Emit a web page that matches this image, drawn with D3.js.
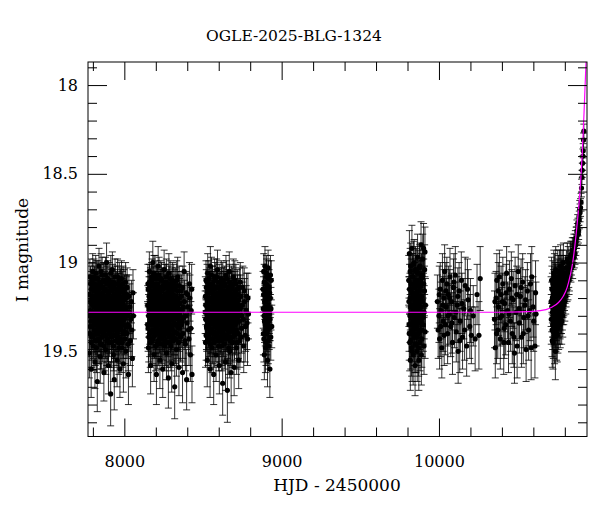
<!DOCTYPE html>
<html>
<head>
<meta charset="utf-8">
<script src="https://d3js.org/d3.v7.min.js"></script>
<style>
  body { margin: 0; background: #fff; }
  text { font-family: "DejaVu Serif", serif; fill: #000; }
</style>
</head>
<body>
<script>
// light curve, one array per observing season: [HJD-2450000, I mag, error]
var season1 = [[7776,19.30,.12],[7778,19.51,.14],[7781,19.08,.10],[7783,19.36,.13],[7786,19.22,.11],[7789,19.60,.16],[7791,19.15,.10],[7794,19.42,.13],[7797,19.28,.12],[7799,19.05,.10],[7802,19.47,.14],[7805,19.19,.11],[7808,19.33,.12],[7811,19.12,.10],[7813,19.56,.15],[7816,19.25,.11],[7819,19.39,.13],[7822,19.09,.10],[7825,19.31,.12],[7828,19.67,.17],[7830,19.17,.11],[7833,19.44,.13],[7836,19.26,.12],[7839,19.02,.10],[7842,19.37,.13],[7845,19.21,.11],[7847,19.53,.15],[7850,19.13,.10],[7853,19.34,.12],[7856,19.46,.14],[7859,19.07,.10],[7862,19.29,.12],[7864,19.18,.11],[7867,19.40,.13],[7870,19.62,.16],[7873,19.24,.11],[7876,19.11,.10],[7879,19.35,.12],[7882,19.49,.14],[7884,19.20,.11],[7887,19.00,.11],[7890,19.32,.12],[7893,19.43,.13],[7896,19.16,.10],[7899,19.58,.16],[7902,19.27,.12],[7904,19.10,.10],[7907,19.38,.13],[7910,19.23,.11],[7913,19.74,.18],[7916,19.14,.10],[7919,19.45,.14],[7921,19.30,.12],[7924,19.04,.10],[7927,19.36,.13],[7930,19.52,.15],[7933,19.19,.11],[7936,19.66,.17],[7939,19.27,.12],[7942,19.12,.10],[7945,19.41,.13],[7948,19.22,.11],[7951,19.33,.12],[7954,19.55,.15],[7957,19.08,.10],[7960,19.29,.12],[7963,19.45,.14],[7966,19.17,.11],[7969,19.37,.13],[7972,19.60,.16],[7975,19.24,.11],[7978,19.13,.10],[7981,19.34,.12],[7984,19.48,.14],[7987,19.20,.11],[7990,19.31,.12],[7994,19.57,.16],[7998,19.15,.11],[8002,19.39,.13],[8006,19.26,.12],[8010,19.50,.15],[8015,19.18,.11],[8020,19.35,.13],[8026,19.63,.17],[8032,19.28,.12],[8038,19.44,.14],[8045,19.22,.12],[8051,19.54,.16],[8058,19.30,.13],
  [7777,19.18,.11],[7780,19.40,.13],[7782,19.27,.12],[7785,19.12,.10],[7787,19.33,.12],[7790,19.45,.14],[7792,19.23,.11],[7795,19.10,.10],[7796,19.36,.13],[7798,19.20,.11],[7800,19.29,.12],[7801,19.14,.10],[7803,19.41,.13],[7806,19.25,.11],[7807,19.08,.10],[7809,19.38,.13],[7810,19.22,.11],[7812,19.31,.12],[7814,19.16,.10],[7815,19.44,.14],[7817,19.28,.12],[7818,19.06,.10],[7820,19.35,.12],[7821,19.19,.11],[7823,19.48,.14],[7824,19.24,.11],[7826,19.13,.10],[7827,19.32,.12],[7829,19.40,.13],[7831,19.21,.11],[7832,19.09,.10],[7834,19.30,.12],[7835,19.37,.13],[7837,19.15,.10],[7838,19.26,.12],[7840,19.43,.14],[7841,19.18,.11],[7843,19.29,.12],[7844,19.11,.10],[7846,19.34,.12],[7848,19.23,.11],[7849,19.46,.14],[7851,19.27,.12],[7852,19.05,.10],[7854,19.39,.13],[7855,19.20,.11],[7857,19.31,.12],[7858,19.14,.10],[7860,19.42,.14],[7861,19.25,.11],[7863,19.17,.11],[7865,19.36,.13],[7866,19.28,.12],[7868,19.10,.10],[7869,19.33,.12],[7871,19.22,.11],[7872,19.47,.14],[7874,19.30,.12],[7875,19.15,.10],[7877,19.38,.13],[7878,19.26,.12],[7880,19.07,.10],[7881,19.41,.13],[7883,19.19,.11],[7885,19.32,.12],[7886,19.24,.11],[7888,19.44,.14],[7889,19.12,.10],[7891,19.29,.12],[7892,19.37,.13],[7894,19.21,.11],[7895,19.09,.10],[7897,19.34,.12],[7898,19.27,.12],[7900,19.45,.14],[7901,19.17,.11],[7903,19.31,.12],[7905,19.23,.11],[7906,19.40,.13],[7908,19.13,.10],[7909,19.28,.12],[7911,19.36,.13],[7912,19.20,.11],[7914,19.06,.10],[7915,19.33,.12],[7917,19.25,.11],[7918,19.42,.14],[7920,19.16,.10],[7922,19.30,.12],[7923,19.38,.13],[7925,19.22,.11],[7926,19.11,.10],[7928,19.35,.12],[7929,19.27,.12],[7931,19.47,.14],[7932,19.14,.10],[7934,19.32,.12],[7935,19.24,.11],[7937,19.41,.13],[7938,19.18,.11],[7940,19.29,.12],[7941,19.08,.10],[7943,19.37,.13],[7944,19.21,.11],[7946,19.33,.12],[7947,19.44,.14],[7949,19.15,.10],[7950,19.26,.12],[7952,19.39,.13],[7953,19.19,.11],[7955,19.30,.12],[7956,19.12,.10],[7958,19.42,.14],[7959,19.23,.11],[7961,19.34,.12],[7962,19.17,.11],[7964,19.28,.12],[7965,19.48,.15],[7967,19.25,.11],[7968,19.10,.10],[7970,19.36,.13],[7971,19.20,.11],[7973,19.31,.12],[7974,19.43,.14],[7976,19.14,.10],[7977,19.27,.12],[7979,19.38,.13],[7980,19.22,.11],[7982,19.09,.10],[7983,19.33,.12],[7985,19.26,.12],[7986,19.45,.14],[7988,19.16,.11],[7989,19.35,.13],[7991,19.24,.11],[7992,19.12,.10],[7993,19.40,.14],[7996,19.29,.12],[7997,19.21,.11],[8000,19.32,.12],[8001,19.18,.11],[8004,19.43,.14],[8005,19.25,.12],[8008,19.11,.11],[8009,19.36,.13],[8012,19.27,.12],[8013,19.20,.12],[8017,19.40,.14],[8018,19.14,.11],[8023,19.30,.13],[8024,19.46,.15],[8029,19.19,.12],[8030,19.36,.14],[8035,19.25,.13],[8041,19.32,.14],[8048,19.38,.15],[8055,19.17,.13]];
var season2 = [[8148,19.35,.13],[8150,19.12,.11],[8153,19.48,.14],[8156,19.26,.12],[8159,19.05,.11],[8161,19.40,.13],[8164,19.19,.11],[8167,19.58,.16],[8170,19.30,.12],[8173,19.10,.10],[8175,19.44,.14],[8178,19.23,.11],[8181,19.00,.12],[8184,19.35,.13],[8187,19.16,.11],[8189,19.52,.15],[8192,19.28,.12],[8195,19.07,.11],[8198,19.38,.13],[8201,19.21,.11],[8204,19.63,.17],[8206,19.13,.10],[8209,19.33,.12],[8212,19.46,.14],[8215,19.02,.11],[8218,19.25,.12],[8220,19.40,.13],[8223,19.17,.11],[8226,19.55,.16],[8229,19.31,.12],[8232,19.09,.10],[8235,19.43,.14],[8238,19.20,.11],[8241,19.36,.13],[8244,19.60,.16],[8247,19.14,.10],[8250,19.29,.12],[8253,19.04,.11],[8256,19.47,.14],[8259,19.23,.11],[8262,19.34,.13],[8265,19.11,.10],[8268,19.51,.15],[8271,19.27,.12],[8274,19.18,.11],[8277,19.39,.13],[8280,19.65,.17],[8283,19.06,.11],[8286,19.32,.12],[8289,19.22,.11],[8292,19.45,.14],[8295,19.15,.10],[8298,19.37,.13],[8301,19.57,.16],[8304,19.26,.12],[8307,19.10,.10],[8310,19.42,.14],[8313,19.19,.11],[8316,19.31,.12],[8320,19.70,.18],[8323,19.24,.12],[8327,19.13,.10],[8331,19.49,.15],[8335,19.28,.12],[8339,19.08,.11],[8343,19.36,.13],[8347,19.59,.16],[8351,19.20,.11],[8355,19.41,.14],[8360,19.16,.11],[8365,19.33,.12],[8370,19.62,.17],[8375,19.25,.12],[8380,19.05,.11],[8385,19.44,.14],[8390,19.30,.12],[8396,19.66,.17],[8402,19.18,.12],[8408,19.38,.13],[8414,19.12,.12],[8420,19.52,.15],[8425,19.27,.13],[8430,19.63,.16],
  [8149,19.24,.11],[8151,19.37,.13],[8152,19.15,.10],[8154,19.30,.12],[8155,19.42,.14],[8157,19.19,.11],[8158,19.28,.12],[8160,19.11,.10],[8162,19.34,.12],[8163,19.25,.11],[8165,19.45,.14],[8166,19.13,.10],[8168,19.31,.12],[8169,19.21,.11],[8171,19.39,.13],[8172,19.17,.11],[8174,19.27,.12],[8176,19.08,.10],[8177,19.35,.13],[8179,19.22,.11],[8180,19.43,.14],[8182,19.29,.12],[8183,19.12,.10],[8185,19.38,.13],[8186,19.24,.11],[8188,19.06,.10],[8190,19.33,.12],[8191,19.19,.11],[8193,19.41,.13],[8194,19.26,.12],[8196,19.15,.10],[8197,19.30,.12],[8199,19.47,.14],[8200,19.21,.11],[8202,19.09,.10],[8203,19.36,.13],[8205,19.27,.12],[8207,19.18,.11],[8208,19.40,.13],[8210,19.23,.11],[8211,19.12,.10],[8213,19.32,.12],[8214,19.26,.12],[8216,19.44,.14],[8217,19.16,.11],[8219,19.35,.13],[8221,19.07,.10],[8222,19.29,.12],[8224,19.38,.13],[8225,19.20,.11],[8227,19.31,.12],[8228,19.14,.10],[8230,19.42,.14],[8231,19.25,.11],[8233,19.19,.11],[8234,19.33,.12],[8236,19.10,.10],[8237,19.28,.12],[8239,19.46,.14],[8240,19.22,.11],[8242,19.30,.12],[8243,19.15,.10],[8245,19.37,.13],[8246,19.24,.11],[8248,19.41,.14],[8249,19.13,.10],[8251,19.32,.12],[8252,19.20,.11],[8254,19.27,.12],[8255,19.39,.13],[8257,19.11,.10],[8258,19.34,.12],[8260,19.26,.12],[8261,19.44,.14],[8263,19.18,.11],[8264,19.29,.12],[8266,19.37,.13],[8267,19.08,.10],[8269,19.23,.11],[8270,19.33,.12],[8272,19.45,.14],[8273,19.14,.10],[8275,19.30,.12],[8276,19.21,.11],[8278,19.40,.13],[8279,19.17,.11],[8281,19.28,.12],[8282,19.35,.13],[8284,19.12,.10],[8285,19.42,.14],[8287,19.25,.12],[8288,19.19,.11],[8290,19.32,.12],[8291,19.09,.10],[8293,19.38,.13],[8294,19.26,.12],[8296,19.47,.14],[8297,19.16,.11],[8299,19.29,.12],[8300,19.22,.11],[8302,19.36,.13],[8303,19.13,.10],[8305,19.41,.14],[8306,19.24,.11],[8308,19.31,.12],[8309,19.18,.11],[8311,19.27,.12],[8312,19.44,.14],[8314,19.11,.10],[8315,19.34,.12],[8318,19.21,.11],[8319,19.39,.13],[8321,19.15,.11],[8322,19.30,.12],[8325,19.43,.14],[8326,19.25,.12],[8329,19.19,.11],[8330,19.35,.13],[8333,19.10,.11],[8334,19.28,.12],[8337,19.40,.14],[8338,19.22,.12],[8341,19.32,.12],[8342,19.16,.11],[8345,19.45,.14],[8346,19.26,.12],[8349,19.13,.11],[8350,19.37,.13],[8353,19.23,.12],[8354,19.30,.12],[8358,19.42,.14],[8362,19.19,.12],[8363,19.35,.13],[8368,19.27,.12],[8372,19.14,.12],[8373,19.40,.14],[8378,19.31,.13],[8382,19.22,.12],[8388,19.46,.15],[8393,19.17,.12],[8399,19.34,.14],[8405,19.25,.13],[8411,19.43,.15],[8417,19.20,.13],[8423,19.37,.15],[8428,19.15,.14]];
var season3 = [[8514,19.28,.12],[8516,19.45,.14],[8519,19.10,.11],[8522,19.36,.13],[8525,19.20,.11],[8527,19.55,.15],[8530,19.06,.11],[8533,19.32,.12],[8536,19.42,.14],[8539,19.15,.10],[8542,19.27,.12],[8545,19.60,.16],[8547,19.02,.11],[8550,19.38,.13],[8553,19.22,.11],[8556,19.48,.14],[8559,19.12,.10],[8562,19.33,.12],[8565,19.18,.11],[8568,19.63,.17],[8571,19.25,.12],[8574,19.08,.10],[8577,19.40,.13],[8580,19.29,.12],[8583,19.52,.15],[8586,19.14,.10],[8589,19.35,.13],[8592,19.04,.11],[8595,19.44,.14],[8598,19.21,.11],[8601,19.31,.12],[8604,19.58,.16],[8607,19.17,.11],[8610,19.39,.13],[8613,19.26,.12],[8616,19.09,.10],[8619,19.47,.14],[8622,19.23,.11],[8625,19.68,.18],[8628,19.34,.12],[8631,19.13,.10],[8634,19.41,.14],[8637,19.19,.11],[8640,19.30,.12],[8643,19.56,.16],[8646,19.07,.11],[8649,19.37,.13],[8652,19.24,.12],[8655,19.72,.18],[8658,19.16,.11],[8661,19.43,.14],[8664,19.28,.12],[8667,19.05,.11],[8670,19.50,.15],[8673,19.21,.11],[8676,19.35,.13],[8679,19.62,.17],[8682,19.12,.10],[8685,19.32,.12],[8688,19.45,.14],[8691,19.18,.11],[8694,19.27,.12],[8698,19.59,.16],[8702,19.10,.11],[8706,19.39,.13],[8710,19.22,.12],[8714,19.48,.15],[8718,19.15,.11],[8722,19.33,.13],[8727,19.55,.16],[8732,19.25,.12],[8737,19.11,.11],[8742,19.42,.14],[8747,19.30,.13],[8753,19.14,.12],[8759,19.47,.15],[8765,19.22,.13],[8771,19.36,.14],[8777,19.19,.13],[8783,19.43,.15],[8789,19.29,.14],
  [8515,19.19,.11],[8517,19.32,.12],[8518,19.24,.11],[8520,19.41,.14],[8521,19.14,.10],[8523,19.28,.12],[8524,19.37,.13],[8526,19.11,.10],[8528,19.30,.12],[8529,19.22,.11],[8531,19.44,.14],[8532,19.17,.11],[8534,19.26,.12],[8535,19.35,.13],[8537,19.09,.10],[8538,19.31,.12],[8540,19.21,.11],[8541,19.40,.13],[8543,19.13,.10],[8544,19.33,.12],[8546,19.25,.12],[8548,19.46,.14],[8549,19.16,.11],[8551,19.29,.12],[8552,19.38,.13],[8554,19.07,.10],[8555,19.27,.12],[8557,19.34,.12],[8558,19.20,.11],[8560,19.43,.14],[8561,19.12,.10],[8563,19.30,.12],[8564,19.24,.11],[8566,19.39,.13],[8567,19.15,.10],[8569,19.32,.12],[8570,19.21,.11],[8572,19.45,.14],[8573,19.18,.11],[8575,19.28,.12],[8576,19.36,.13],[8578,19.10,.10],[8579,19.23,.11],[8581,19.42,.14],[8582,19.26,.12],[8584,19.19,.11],[8585,19.33,.12],[8587,19.08,.10],[8588,19.29,.12],[8590,19.40,.13],[8591,19.22,.11],[8593,19.31,.12],[8594,19.14,.10],[8596,19.37,.13],[8597,19.25,.12],[8599,19.47,.14],[8600,19.17,.11],[8602,19.28,.12],[8603,19.11,.10],[8605,19.35,.13],[8606,19.22,.11],[8608,19.42,.14],[8609,19.15,.10],[8611,19.32,.12],[8612,19.20,.11],[8614,19.38,.13],[8615,19.27,.12],[8617,19.13,.10],[8618,19.30,.12],[8620,19.44,.14],[8621,19.19,.11],[8623,19.26,.12],[8624,19.35,.13],[8626,19.10,.10],[8627,19.29,.12],[8629,19.40,.13],[8630,19.23,.11],[8632,19.33,.12],[8633,19.16,.11],[8635,19.46,.14],[8636,19.28,.12],[8638,19.12,.10],[8639,19.36,.13],[8641,19.21,.11],[8642,19.31,.12],[8644,19.18,.11],[8645,19.43,.14],[8647,19.25,.12],[8648,19.34,.12],[8650,19.09,.10],[8651,19.30,.12],[8653,19.41,.14],[8654,19.20,.11],[8656,19.27,.12],[8657,19.37,.13],[8659,19.14,.10],[8660,19.32,.12],[8662,19.22,.11],[8663,19.48,.15],[8665,19.17,.11],[8666,19.29,.12],[8668,19.39,.13],[8669,19.11,.10],[8671,19.26,.12],[8672,19.34,.12],[8674,19.19,.11],[8675,19.44,.14],[8677,19.23,.11],[8678,19.31,.12],[8680,19.15,.10],[8681,19.38,.13],[8683,19.27,.12],[8684,19.21,.11],[8686,19.42,.14],[8687,19.13,.10],[8689,19.30,.12],[8690,19.36,.13],[8692,19.24,.11],[8693,19.08,.10],[8696,19.33,.12],[8697,19.20,.11],[8700,19.41,.14],[8701,19.26,.12],[8704,19.16,.11],[8705,19.35,.13],[8708,19.29,.12],[8709,19.12,.11],[8712,19.38,.13],[8713,19.23,.12],[8716,19.31,.12],[8717,19.45,.15],[8720,19.18,.11],[8721,19.28,.12],[8725,19.40,.14],[8726,19.21,.12],[8730,19.33,.13],[8731,19.14,.11],[8735,19.44,.15],[8736,19.26,.12],[8740,19.19,.12],[8745,19.37,.14],[8750,19.24,.13],[8756,19.32,.14],[8762,19.16,.13],[8768,19.41,.15],[8774,19.27,.14],[8780,19.34,.15],[8786,19.20,.14]];
var season4 = [[8882,19.15,.10],[8884,19.40,.12],[8886,19.05,.10],[8888,19.30,.11],[8890,19.52,.14],[8892,19.22,.10],[8894,19.02,.11],[8896,19.35,.12],[8898,19.12,.10],[8900,19.45,.13],[8902,19.27,.11],[8904,19.08,.10],[8906,19.38,.12],[8908,19.18,.10],[8910,19.55,.15],[8912,19.25,.11],[8914,19.03,.10],[8916,19.33,.12],[8918,19.47,.13],[8920,19.14,.10],[8922,19.29,.11],[8925,19.60,.16],[8928,19.20,.11],[8931,19.42,.13],[8934,19.10,.11],[8937,19.36,.12],
  [8883,19.26,.11],[8885,19.18,.10],[8887,19.43,.13],[8889,19.11,.10],[8891,19.33,.12],[8893,19.27,.11],[8895,19.16,.10],[8897,19.48,.14],[8899,19.22,.10],[8901,19.31,.11],[8903,19.06,.10],[8905,19.40,.12],[8907,19.25,.11],[8909,19.13,.10],[8911,19.35,.12],[8913,19.20,.11],[8915,19.44,.13],[8917,19.09,.10],[8919,19.28,.11],[8921,19.37,.12],[8923,19.17,.10],[8926,19.32,.12],[8929,19.07,.11],[8932,19.26,.12]];
var season5 = [[9808,19.10,.14],[9810,19.35,.15],[9812,18.95,.13],[9814,19.45,.16],[9816,19.20,.14],[9818,19.55,.17],[9820,19.02,.13],[9822,19.30,.15],[9824,19.15,.14],[9826,19.48,.16],[9828,18.92,.13],[9830,19.25,.14],[9832,19.38,.15],[9834,19.08,.13],[9836,19.52,.17],[9838,19.18,.14],[9840,19.33,.15],[9842,19.00,.13],[9844,19.42,.16],[9846,19.22,.14],[9848,19.58,.17],[9850,19.12,.14],[9852,19.28,.15],[9854,19.46,.16],[9856,19.05,.13],[9858,19.36,.15],[9860,19.17,.14],[9862,19.50,.17],[9864,18.97,.13],[9866,19.26,.14],[9868,19.40,.16],[9870,19.13,.14],[9872,19.55,.17],[9874,19.21,.14],[9876,19.03,.13],[9878,19.34,.15],[9880,19.45,.16],[9882,19.11,.14],[9884,19.29,.15],[9886,18.90,.13],[9888,19.52,.17],[9890,19.19,.14],[9893,19.38,.15],[9896,19.07,.14],[9899,19.31,.15],[9902,18.92,.14],[9905,19.47,.16],[9908,19.16,.14],[9911,18.94,.14],[9914,19.24,.15],
  [9809,19.22,.14],[9811,19.40,.15],[9813,19.15,.14],[9815,19.30,.15],[9817,19.05,.13],[9819,19.25,.14],[9821,19.44,.16],[9823,19.12,.14],[9825,19.35,.15],[9827,19.20,.14],[9829,19.50,.17],[9831,19.08,.13],[9833,19.28,.15],[9835,19.17,.14],[9837,19.40,.16],[9839,19.01,.13],[9841,19.24,.14],[9843,19.32,.15],[9845,19.14,.14],[9847,19.46,.16],[9849,19.27,.15],[9851,19.04,.13],[9853,19.37,.15],[9855,19.19,.14],[9857,19.30,.15],[9859,19.10,.14],[9861,19.42,.16],[9863,19.23,.14],[9865,19.34,.15],[9867,19.06,.13],[9869,19.27,.15],[9871,19.48,.16],[9873,19.16,.14],[9875,19.31,.15],[9877,19.20,.14],[9879,19.02,.13],[9881,19.38,.15],[9883,19.25,.14],[9885,19.13,.14],[9887,19.33,.15],[9889,19.09,.14],[9891,19.43,.16],[9894,19.22,.14],[9897,18.98,.14],[9900,19.35,.15],[9903,19.12,.14],[9906,19.28,.15],[9909,19.04,.14],[9912,19.39,.15]];
var season6 = [[9990,19.22,.15],[9995,19.38,.16],[10000,19.30,.15],[10004,19.43,.17],[10008,19.15,.15],[10013,19.27,.16],[10018,19.48,.17],[10022,19.10,.15],[10027,19.33,.17],[10031,19.20,.16],[10036,19.05,.15],[10041,19.35,.17],[10046,19.25,.16],[10050,19.12,.15],[10055,19.40,.17],[10060,19.18,.16],[10065,19.29,.17],[10070,19.08,.16],[10075,19.36,.17],[10080,19.22,.16],[10086,19.45,.18],[10092,19.14,.16],[10098,19.31,.17],[10104,19.07,.16],[10110,19.39,.17],[10116,19.24,.16],[10122,19.50,.18],[10128,19.16,.16],[10135,19.33,.17],[10142,19.10,.16],[10150,19.42,.18],[10158,19.26,.17],[10167,19.13,.16],[10176,19.47,.17],[10186,19.21,.17],[10196,19.36,.18],[10206,19.41,.16],[10218,19.30,.17],[10230,19.43,.18],[10242,19.18,.17],[10254,19.41,.19],[10262,19.09,.18],
  [10002,19.18,.16],[10011,19.36,.17],[10025,19.24,.16],[10033,19.41,.17],[10044,19.16,.16],[10057,19.30,.17],[10068,19.20,.16],[10083,19.34,.17],[10095,19.11,.16],[10107,19.28,.17],[10120,19.19,.16],[10132,19.44,.18],[10146,19.23,.17],[10163,19.38,.17],[10181,19.15,.17],[10200,19.27,.18]];
var season7 = [[10353,19.32,.16],[10358,19.48,.17],[10363,19.20,.15],[10368,19.10,.15],[10374,19.38,.16],[10379,19.25,.16],[10384,19.08,.15],[10390,19.43,.17],[10395,19.18,.16],[10400,19.30,.16],[10406,19.12,.15],[10412,19.45,.18],[10418,19.23,.16],[10424,19.35,.17],[10430,19.06,.15],[10436,19.27,.16],[10442,19.45,.17],[10448,19.15,.16],[10454,19.33,.17],[10460,19.09,.15],[10466,19.40,.17],[10472,19.21,.16],[10480,19.51,.17],[10484,19.13,.16],[10490,19.28,.16],[10497,19.47,.18],[10504,19.05,.15],[10511,19.34,.17],[10518,19.19,.16],[10525,19.42,.17],[10532,19.11,.16],[10539,19.31,.17],[10546,19.24,.16],[10554,19.49,.18],[10562,19.16,.16],[10570,19.38,.17],[10578,19.27,.17],[10586,19.48,.18],[10590,19.08,.17],[10602,19.33,.17],[10610,19.47,.18],[10617,19.29,.18],
  [10356,19.22,.16],[10366,19.40,.17],[10377,19.16,.16],[10388,19.31,.16],[10403,19.22,.16],[10415,19.37,.17],[10427,19.17,.16],[10445,19.29,.17],[10463,19.20,.16],[10476,19.42,.17],[10494,19.18,.16],[10508,19.26,.17],[10522,19.14,.16],[10536,19.40,.17],[10551,19.21,.17],[10566,19.30,.17],[10582,19.12,.17],[10598,19.25,.17],[10614,19.17,.18]];
var season8 = [[10713,19.22,.14],[10716,19.10,.13],[10719,19.38,.15],[10722,19.28,.14],[10725,19.45,.15],[10728,19.17,.13],[10731,19.33,.14],[10734,19.08,.13],[10737,19.24,.14],[10740,19.50,.16],[10743,19.14,.13],[10746,19.30,.14],[10749,19.20,.13],[10752,19.41,.15],[10755,19.05,.12],[10758,19.26,.13],[10761,19.35,.14],[10764,19.12,.12],[10767,19.21,.13],[10770,19.30,.13],[10773,19.02,.12],[10776,19.18,.12],[10779,19.27,.13],[10782,19.10,.12],[10785,19.23,.12],[10788,19.15,.11],[10791,19.00,.11],[10794,19.19,.11],[10797,19.12,.10],[10800,19.22,.11],[10804,19.06,.10],[10808,19.15,.10],[10812,19.09,.10],[10816,18.98,.09],[10820,19.12,.09],[10825,19.05,.09],[10829,19.08,.08],[10834,18.97,.08],[10839,19.03,.08],[10845,18.95,.07],[10850,19.02,.07],[10856,18.93,.07],[10860,18.97,.06],[10865,18.95,.06],[10870,18.90,.06],[10875,18.86,.06],[10880,18.84,.06],[10884,18.80,.05],[10888,18.82,.05],[10892,18.76,.05],[10897,18.72,.05],[10903,18.66,.05],[10909,18.52,.04],[10913,18.44,.04],[10917,18.37,.04],[10921,18.26,.04],
  [10714,19.32,.14],[10717,19.25,.14],[10718,19.15,.13],[10720,19.44,.15],[10721,19.20,.14],[10723,19.35,.14],[10724,19.12,.13],[10726,19.28,.14],[10727,19.39,.15],[10729,19.23,.13],[10730,19.06,.13],[10732,19.30,.14],[10733,19.18,.13],[10735,19.42,.15],[10736,19.27,.14],[10738,19.13,.13],[10739,19.34,.14],[10741,19.22,.13],[10742,19.04,.13],[10744,19.36,.14],[10745,19.25,.13],[10747,19.16,.13],[10748,19.40,.15],[10750,19.28,.13],[10751,19.10,.12],[10753,19.32,.14],[10754,19.19,.13],[10756,19.37,.14],[10757,19.14,.12],[10759,19.24,.13],[10760,19.08,.12],[10762,19.29,.13],[10763,19.19,.12],[10765,19.33,.13],[10766,19.05,.12],[10768,19.25,.13],[10769,19.14,.12],[10771,19.35,.13],[10772,19.20,.12],[10774,19.11,.12],[10775,19.28,.12],[10777,19.08,.12],[10778,19.22,.12],[10780,19.33,.13],[10781,19.16,.12],[10783,19.04,.11],[10784,19.26,.12],[10786,19.13,.11],[10787,19.30,.12],[10789,19.20,.11],[10790,19.07,.11],[10793,19.24,.11],[10795,19.10,.11],[10798,19.17,.10],[10802,19.13,.10],[10806,19.19,.10],[10810,19.03,.10],[10814,19.13,.09],[10818,19.06,.09],[10822,19.00,.09],[10827,19.10,.08],[10832,19.02,.08],[10837,18.96,.08],[10842,19.00,.07],[10848,18.93,.07],[10853,18.97,.07],[10858,18.90,.06],[10862,18.92,.06],[10867,18.88,.06],[10872,18.86,.06],[10877,18.82,.06],[10882,18.78,.05],[10886,18.84,.05],[10890,18.74,.05],[10895,18.70,.05],[10900,18.69,.05],[10906,18.58,.05],[10911,18.48,.04],[10915,18.40,.04],[10919,18.31,.04]];

// fitted model
var modelHjd = [7769, 10400, 10600, 10680, 10720, 10760, 10790, 10815, 10835, 10850, 10862, 10873, 10883, 10892, 10900, 10906, 10912, 10917, 10922, 10926, 10930, 10934, 10938, 10941];
var modelMag = [19.28, 19.28, 19.275, 19.265, 19.25, 19.225, 19.19, 19.14, 19.07, 19.00, 18.92, 18.83, 18.74, 18.65, 18.55, 18.46, 18.36, 18.26, 18.16, 18.07, 17.98, 17.89, 17.80, 17.72];

var xMajor = [8000, 9000, 10000];
var xMinor = [7800, 8200, 8400, 8600, 8800, 9200, 9400, 9600, 9800, 10200, 10400, 10600, 10800];
var yMajor = [18, 18.5, 19, 19.5];
var yMinor = [17.9, 18.1, 18.2, 18.3, 18.4, 18.6, 18.7, 18.8, 18.9, 19.1, 19.2, 19.3, 19.4, 19.6, 19.7, 19.8, 19.9];

var title = "OGLE-2025-BLG-1324";

var plotLeft = 88, plotRight = 587, plotTop = 62, plotBottom = 436.5;

var svg = d3.select("body").append("svg")
  .attr("width", 600)
  .attr("height", 512);

var x = d3.scaleLinear().domain([7769, 10941]).range([plotLeft, plotRight]);
var y = d3.scaleLinear().domain([17.87, 19.98]).range([plotTop, plotBottom]);

svg.append("clipPath").attr("id", "plot")
  .append("rect")
  .attr("x", plotLeft).attr("y", plotTop)
  .attr("width", plotRight - plotLeft).attr("height", plotBottom - plotTop);

var points = [].concat(season1, season2, season3, season4, season5, season6, season7, season8);

var g = svg.append("g").attr("clip-path", "url(#plot)");

// error bars
g.append("g")
  .attr("stroke", "#000")
  .attr("stroke-width", 1)
  .attr("stroke-opacity", 0.8)
  .selectAll("path")
  .data(points)
  .enter().append("path")
  .attr("d", d => {
    var px = x(d[0]), y1 = y(d[1] - d[2]), y2 = y(d[1] + d[2]);
    return "M" + px + "," + y1 + "V" + y2 +
      "M" + (px - 3.5) + "," + y1 + "H" + (px + 3.5) +
      "M" + (px - 3.5) + "," + y2 + "H" + (px + 3.5);
  });

g.selectAll("circle")
  .data(points)
  .enter().append("circle")
  .attr("cx", d => x(d[0]))
  .attr("cy", d => y(d[1]))
  .attr("r", 2.6)
  .attr("fill", "#000");

var model = d3.line()
  .x((d, i) => x(modelHjd[i]))
  .y(d => y(d))
  .curve(d3.curveMonotoneX);

g.append("path")
  .attr("d", model(modelMag))
  .attr("fill", "none")
  .attr("stroke", "#ff00ff")
  .attr("stroke-width", 1.2);

// axes with inward ticks on all four sides
function tickAxis(axis, values, size, tx, ty, keepText) {
  var a = svg.append("g")
    .attr("transform", "translate(" + tx + "," + ty + ")")
    .call(axis.tickValues(values).tickSize(size).tickPadding(10).tickFormat(d3.format("")));
  a.select(".domain").remove();
  a.selectAll("line").attr("stroke", "#000");
  if (!keepText) a.selectAll("text").remove();
  return a;
}

var bx = tickAxis(d3.axisBottom(x), xMajor, -18, 0, plotBottom, true);
bx.selectAll("text").attr("font-size", 16).attr("y", 19).attr("dy", "0.71em")
  .style("font-family", "DejaVu Serif");
tickAxis(d3.axisBottom(x), xMinor, -9, 0, plotBottom, false);
tickAxis(d3.axisTop(x), xMajor, -18, 0, plotTop, false);
tickAxis(d3.axisTop(x), xMinor, -9, 0, plotTop, false);

var ly = tickAxis(d3.axisLeft(y), yMajor, -19, plotLeft, 0, true);
ly.selectAll("text").attr("font-size", 16).style("font-family", "DejaVu Serif");
tickAxis(d3.axisLeft(y), yMinor, -9, plotLeft, 0, false);
tickAxis(d3.axisRight(y), yMajor, -19, plotRight, 0, false);
tickAxis(d3.axisRight(y), yMinor, -9, plotRight, 0, false);

svg.append("rect")
  .attr("x", plotLeft).attr("y", plotTop)
  .attr("width", plotRight - plotLeft).attr("height", plotBottom - plotTop)
  .attr("fill", "none")
  .attr("stroke", "#000")
  .attr("stroke-width", 1);

svg.append("text")
  .attr("x", 294).attr("y", 41)
  .attr("text-anchor", "middle")
  .attr("font-size", 15.5)
  .text(title);

svg.append("text")
  .attr("x", 337).attr("y", 491)
  .attr("text-anchor", "middle")
  .attr("font-size", 17)
  .text("HJD - 2450000");

svg.append("text")
  .attr("transform", "translate(28,250) rotate(-90)")
  .attr("text-anchor", "middle")
  .attr("font-size", 17)
  .text("I magnitude");
</script>
</body>
</html>
